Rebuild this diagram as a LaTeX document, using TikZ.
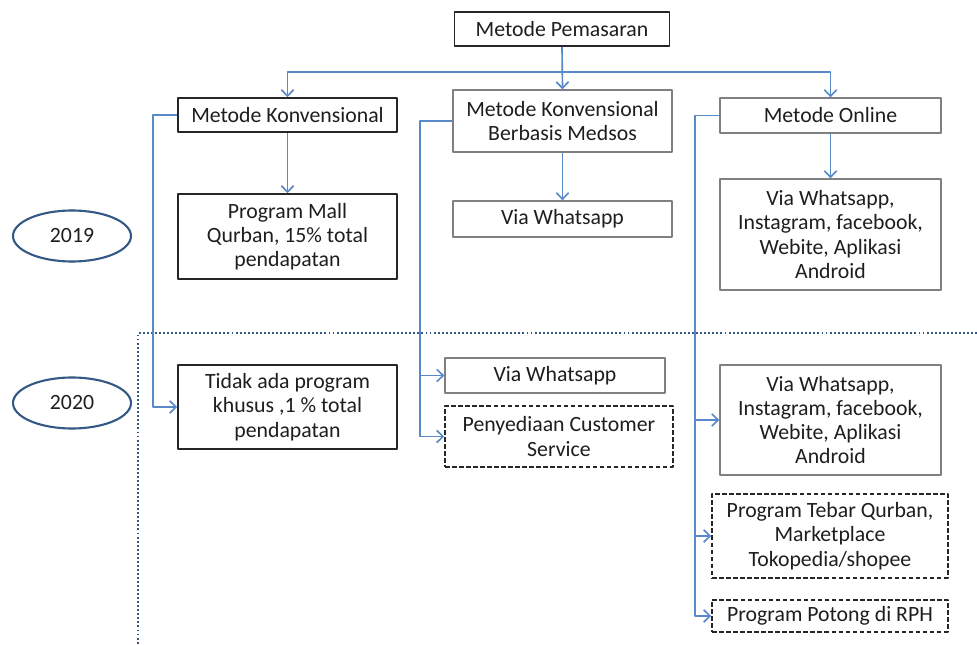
\documentclass[tikz,border=0pt]{standalone}
\usepackage{fontspec}
\setmainfont{Carlito}
\usetikzlibrary{arrows.meta,shapes.geometric}
\definecolor{linkblue}{RGB}{88,138,203}
\definecolor{rimblue}{RGB}{52,88,134}
\definecolor{txtgray}{RGB}{30,30,30}
\tikzset{
	boxdark/.style={draw=black!85, line width=0.9pt, align=center, inner sep=1pt},
	boxgray/.style={draw=black!50, line width=0.8pt, align=center, inner sep=1pt},
	boxdash/.style={draw=black!85, line width=0.9pt, dash pattern=on 2.6pt off 1.4pt, align=center, inner sep=1pt},
	yearbox/.style={ellipse, draw=rimblue, line width=1.2pt, minimum width=2.36cm, minimum height=1.02cm},
	link/.style={draw=linkblue, line width=0.95pt, -{Straight Barb[length=3.6pt,width=7pt]}},
	divider/.style={draw=rimblue, line width=1.3pt, dash pattern=on 1.1pt off 1.2pt}
}
\begin{document}
\begin{tikzpicture}[x=0.02cm, y=-0.02cm, font=\fontsize{12.4}{13.8}\selectfont, text=txtgray, line join=round]
	\useasboundingbox (0,0) rectangle (977,645);
	
	% Garis pembatas tahun
	\draw[divider] (977,333) -- (138,333) -- (138,645);
	
	% Tahun
	\node[yearbox] (y2019) at (72,236) {2019};
	\node[yearbox] (y2020) at (72,403) {2020};
	
	% Baris atas
	\node[boxdark, minimum width=4.3cm, minimum height=0.68cm] (pemasaran) at (562,29) {Metode Pemasaran};
	\node[boxdark, minimum width=4.38cm, minimum height=0.68cm] (konv) at (287.5,115) {Metode Konvensional};
	\node[boxgray, minimum width=4.38cm, minimum height=1.24cm] (medsos) at (562.5,121) {Metode Konvensional\\Berbasis Medsos};
	\node[boxgray, minimum width=4.42cm, minimum height=0.7cm] (online) at (830.5,115.5) {Metode Online};
	
	% Tahun 2019
	\node[boxdark, minimum width=4.38cm, minimum height=1.7cm] (mall) at (287.5,236.5) {Program Mall\\Qurban, 15\% total\\pendapatan};
	\node[boxgray, minimum width=4.38cm, minimum height=0.72cm] (wa19) at (562.5,219) {Via Whatsapp};
	\node[boxgray, minimum width=4.42cm, minimum height=2.22cm] (online19) at (830.5,234.5) {Via Whatsapp,\\Instagram, facebook,\\Webite, Aplikasi\\Android};
	
	% Tahun 2020
	\node[boxdark, minimum width=4.38cm, minimum height=1.68cm] (tidak) at (287.5,407) {Tidak ada program\\khusus ,1 \% total\\pendapatan};
	\node[boxgray, minimum width=4.4cm, minimum height=0.7cm] (wa20) at (555,375.5) {Via Whatsapp};
	\node[boxdash, minimum width=4.56cm, minimum height=1.22cm] (cs) at (559,436.5) {Penyediaan Customer\\Service};
	\node[boxgray, minimum width=4.42cm, minimum height=2.2cm] (online20) at (830.5,420) {Via Whatsapp,\\Instagram, facebook,\\Webite, Aplikasi\\Android};
	\node[boxdash, minimum width=4.72cm, minimum height=1.68cm] (tebar) at (830,536) {Program Tebar Qurban,\\Marketplace\\Tokopedia/shopee};
	\node[boxdash, minimum width=4.72cm, minimum height=0.64cm] (potong) at (830,616) {Program Potong di RPH};
	
	% Percabangan dari metode pemasaran
	\coordinate (bus) at (562,72);
	\draw[link] (pemasaran.south) -- (medsos.north);
	\draw[link] (bus) -| (konv.north);
	\draw[link] (bus) -| (online.north);
	
	% Panah ke 2019
	\foreach \a/\b in {konv/mall, medsos/wa19, online/online19}
	\draw[link] (\a.south) -- (\b.north);
	
	% Jalur samping ke 2020
	\coordinate (kspine) at (153,0);
	\coordinate (mspine) at (420,0);
	\coordinate (ospine) at (695,0);
	\draw[link] (konv.west) -- (konv.west -| kspine) |- (tidak.west);
	\draw[link] (medsos.west) -- (medsos.west -| mspine) |- (cs.west);
	\draw[link] (mspine |- wa20.west) -- (wa20.west);
	\draw[link] (online.west) -- (online.west -| ospine) |- (potong.west);
	\foreach \n in {online20, tebar}
	\draw[link] (ospine |- \n.west) -- (\n.west);
\end{tikzpicture}
\end{document}
